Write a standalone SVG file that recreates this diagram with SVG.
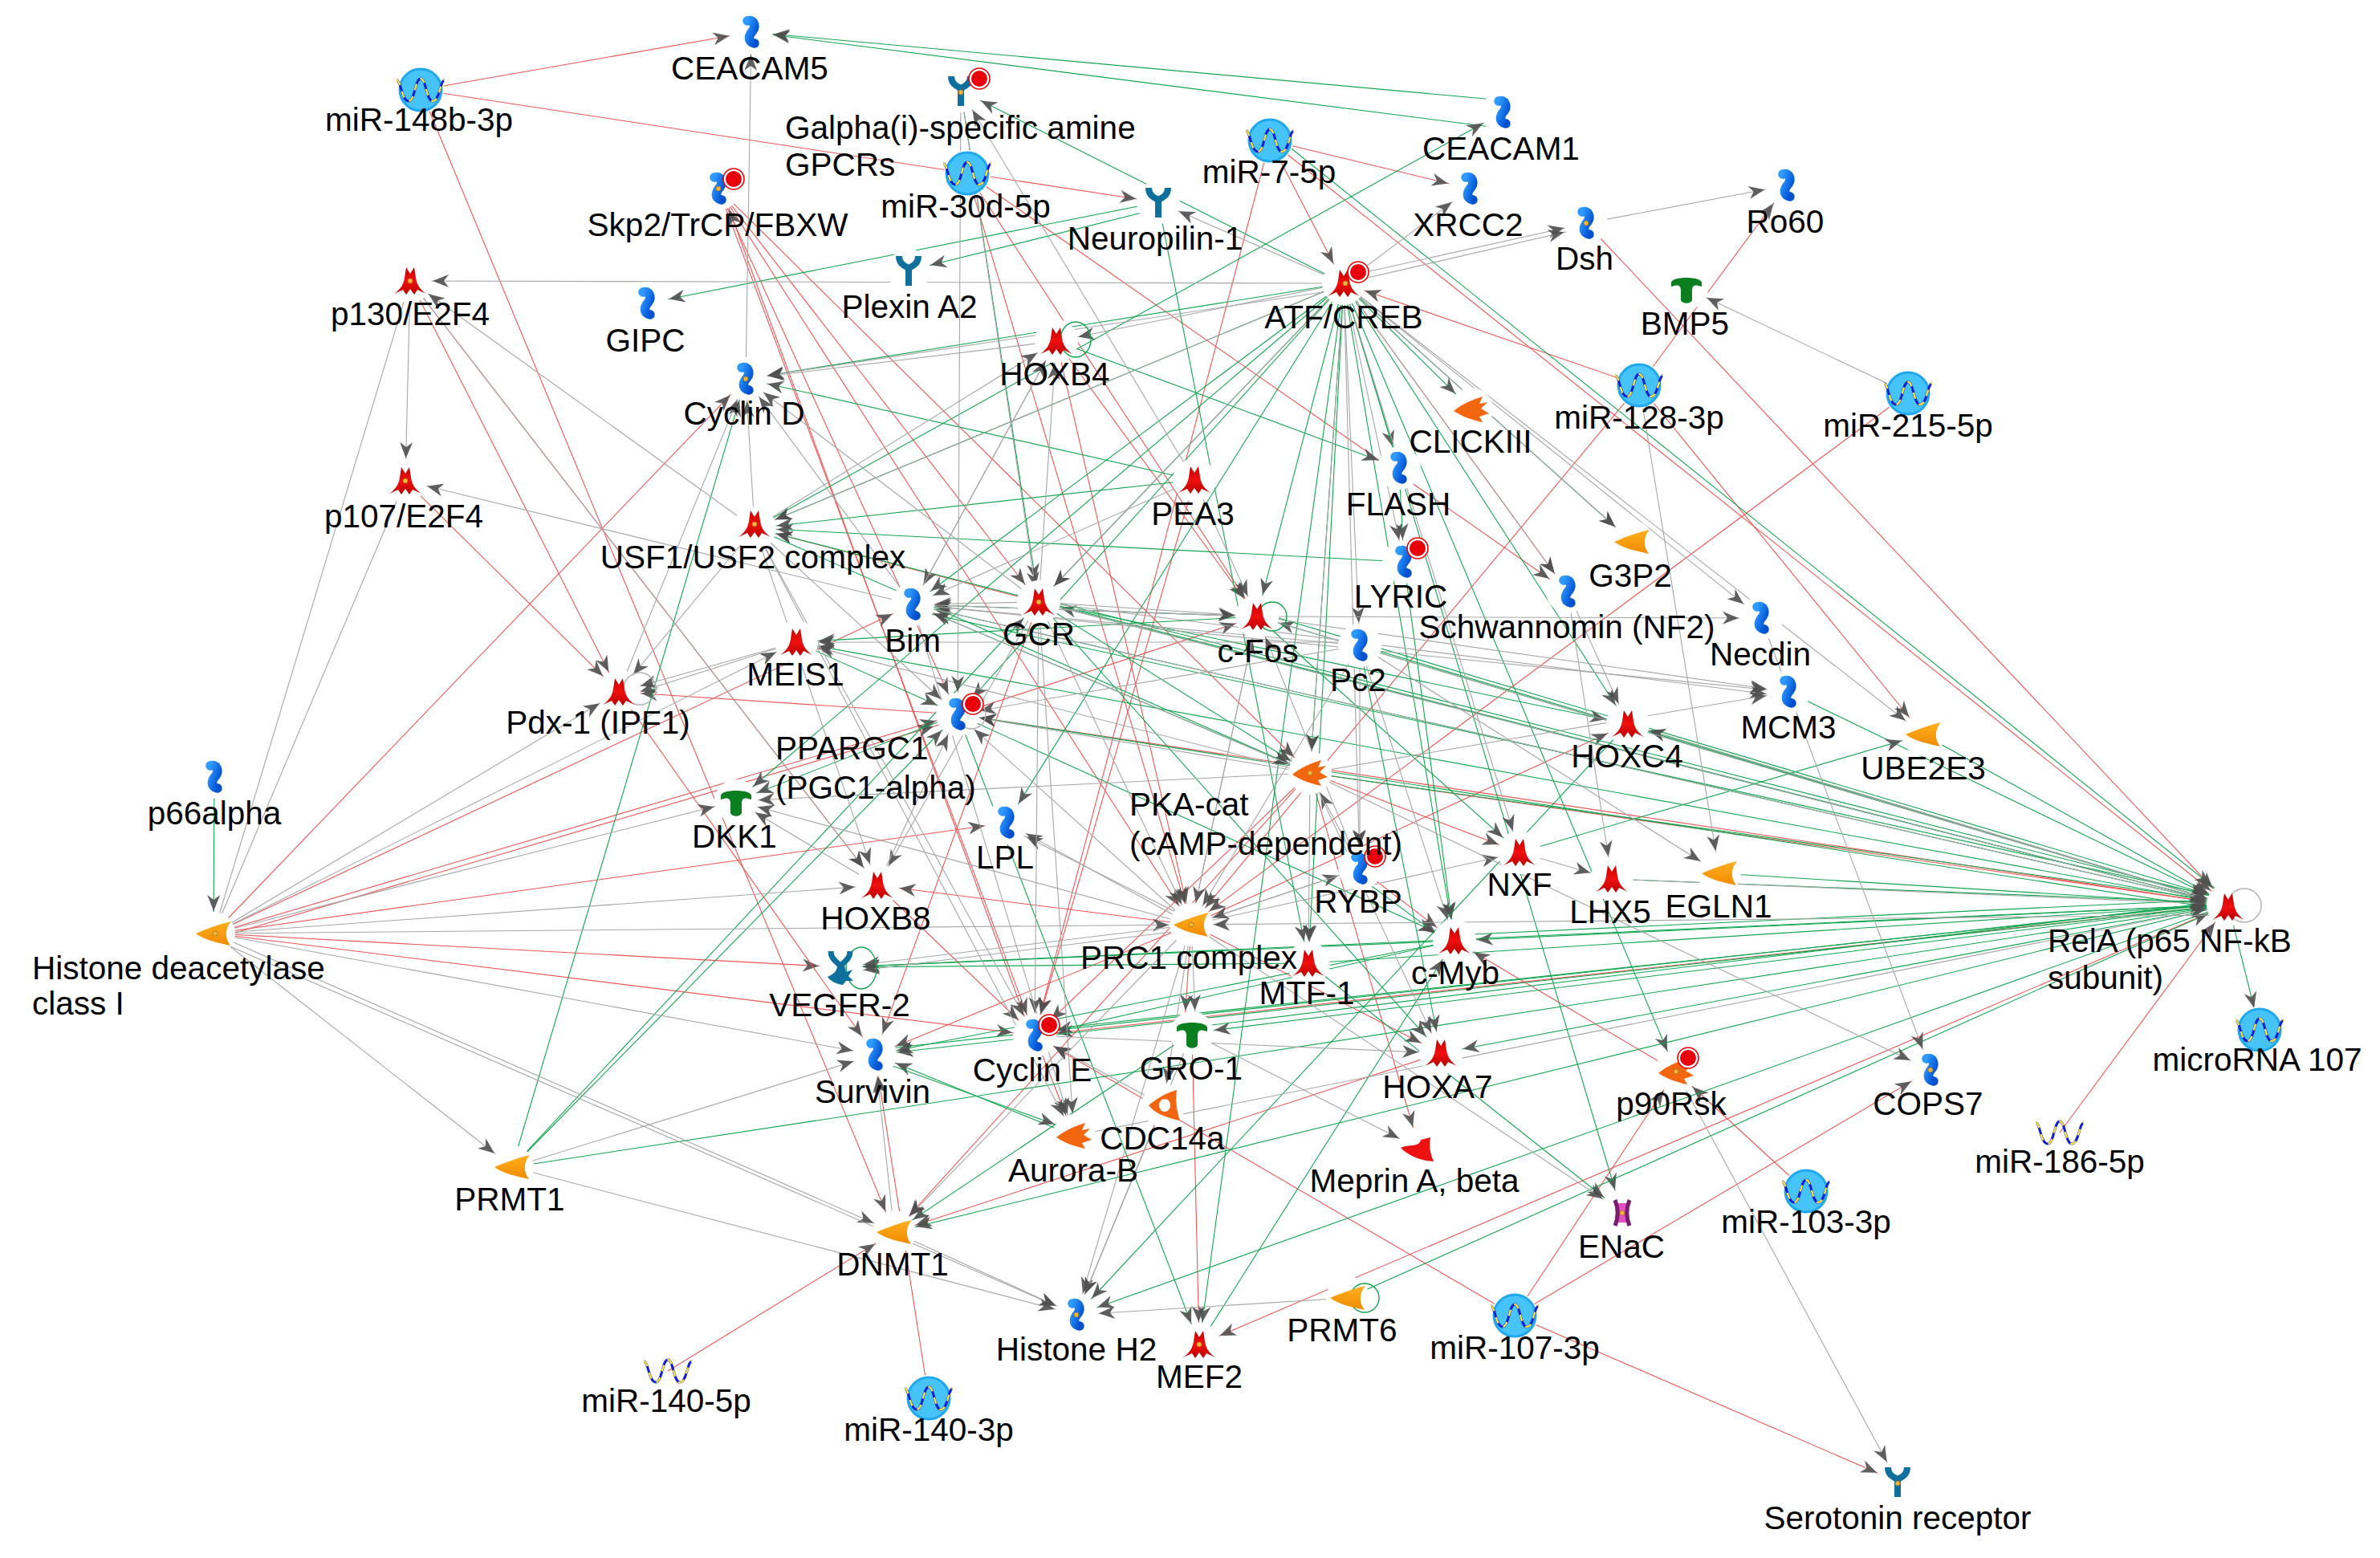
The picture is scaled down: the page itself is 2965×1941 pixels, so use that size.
<svg xmlns="http://www.w3.org/2000/svg" width="2965" height="1941" viewBox="0 0 2965 1941">
<style>
text{font-family:"Liberation Sans",Arial,sans-serif;font-size:40.5px;fill:#000;text-anchor:middle}
text.l{text-anchor:start}
.h{fill:#fff}
#edges line{stroke-width:1.1;fill:none;marker-end:url(#a)}
#edges .r line{stroke:#ee5555}
#edges .g line{stroke:#12a650}
#edges .y line{stroke:#a6a6a6}
#edges line.n{marker-end:none}
.loop{fill:none;stroke-width:1.4}
.lg{stroke:#12a650}
.ly{stroke:#b0b0b0}
.dot1{fill:#fff;stroke:#e00;stroke-width:1.6}
.dot2{fill:#e8000b}
.gear{fill:#f4b63a;stroke:#a8741a;stroke-width:.8}
</style>
<defs>
<marker id="a" markerUnits="userSpaceOnUse" markerWidth="90" markerHeight="24" refX="78" refY="12" orient="auto" overflow="visible"><path d="M30 4L50 12L30 20L36 12Z" fill="#4f4f4f" opacity=".9"/></marker>
<linearGradient id="bl" x1="0" y1="0" x2="1" y2="1"><stop offset="0" stop-color="#2f9bff"/><stop offset="1" stop-color="#0050d0"/></linearGradient>
<linearGradient id="rd" x1="0" y1="0" x2="0" y2="1"><stop offset="0" stop-color="#c40000"/><stop offset=".5" stop-color="#f01010"/><stop offset="1" stop-color="#b80000"/></linearGradient>
<linearGradient id="or" x1="0" y1="0" x2="0" y2="1"><stop offset="0" stop-color="#ffb020"/><stop offset="1" stop-color="#f08a00"/></linearGradient>
<g id="prot"><path d="M-5-14C3-17 6-8 2-2C-3 4-6 11 4 14" fill="none" stroke="url(#bl)" stroke-width="11.5" stroke-linecap="round"/></g>
<g id="tf"><path d="M-20 16C-10 9-8 2-7-4L-5-17L0-9L5-17L7-4C8 2 10 9 20 16L9 11L5 17L0 10L-5 17L-9 11Z" fill="url(#rd)"/></g>
<g id="rec"><path d="M-12-18C-12-7-3-5 0-3M12-18C12-7 3-5 0-3M0-3L0 19" fill="none" stroke="#0f6f9d" stroke-width="8"/></g>
<g id="enz"><path d="M22-15C8-12-8-6-22 0C-12 8 8 12 21 15C14 6 14-6 22-15Z" fill="url(#or)"/></g>
<g id="kin"><path d="M14-16C2-12-10-8-22 2C-10 10 4 14 14 16L10 9L22 5L12-1L20-9L10-7Z" fill="#f2660f"/></g>
<g id="gf"><path d="M-19-7C-18-15 18-15 19-7L19-2C10-5 7-4 7 4L7 15C5 20-5 20-7 15L-7 4C-7-4-10-5-19-2Z" fill="#0b7f1f"/></g>
<g id="wave"><path d="M-30-12C-24-12-24 14-15 14C-7 14-7-14 0-14C7-14 7 14 15 14C24 14 24-12 30-12" fill="none" stroke="#1020d0" stroke-width="3"/><path d="M-30-12C-24-12-24 14-15 14C-7 14-7-14 0-14C7-14 7 14 15 14C24 14 24-12 30-12" fill="none" stroke="#f8e040" stroke-width="2.4" stroke-dasharray="8 8"/></g>
<g id="mir"><circle r="26" fill="#46c4fa" stroke="#1fa8ee" stroke-width="3"/><use href="#wave"/></g>
<g id="pt"><circle r="13" class="dot1"/><circle r="10" class="dot2"/></g>
</defs>
<g id="edges">
<g class="r">
<line x1="524" y1="112" x2="936" y2="40"/><line x1="524" y1="112" x2="1443" y2="252"/><line x1="524" y1="112" x2="1114" y2="1535"/>
<line x1="895" y1="235" x2="1289" y2="1290"/><line x1="895" y1="235" x2="1193" y2="890"/><line x1="895" y1="235" x2="1484" y2="1152"/><line x1="895" y1="235" x2="1294" y2="750"/><line x1="895" y1="235" x2="1632" y2="963"/><line x1="1285" y1="1290" x2="899" y2="235"/>
<line x1="1205" y1="216" x2="1484" y2="1152"/><line x1="1205" y1="216" x2="1566" y2="768"/><line x1="1205" y1="216" x2="1953" y2="737"/>
<line x1="1582" y1="175" x2="1674" y2="353"/><line x1="1582" y1="175" x2="1831" y2="235"/><line x1="1582" y1="175" x2="1289" y2="1290"/><line x1="1582" y1="175" x2="2776" y2="1127"/>
<line x1="1976" y1="278" x2="2776" y2="1127"/><line x1="2042" y1="480" x2="2226" y2="231"/><line x1="2042" y1="480" x2="1674" y2="353"/><line x1="2042" y1="480" x2="2396" y2="915"/><line x1="2042" y1="480" x2="1484" y2="1152"/><line x1="2377" y1="490" x2="1484" y2="1152"/>
<line x1="2566" y1="1411" x2="2776" y2="1127"/><line x1="1887" y1="1639" x2="2364" y2="1846"/><line x1="1887" y1="1639" x2="2088" y2="1335"/><line x1="1887" y1="1639" x2="2405" y2="1333"/><line x1="2250" y1="1484" x2="2088" y2="1335"/><line x1="1887" y1="1639" x2="1289" y2="1290"/>
<line x1="832" y1="1708" x2="1114" y2="1535"/><line x1="1157" y1="1742" x2="1090" y2="1314"/>
<line x1="266" y1="1163" x2="929" y2="472"/><line x1="266" y1="1163" x2="1137" y2="753"/><line x1="266" y1="1163" x2="1193" y2="890"/><line x1="266" y1="1170" x2="1190" y2="897"/><line x1="266" y1="1163" x2="1254" y2="1025"/><line x1="266" y1="1163" x2="1048" y2="1205"/><line x1="266" y1="1163" x2="1289" y2="1290"/>
<line x1="511" y1="350" x2="771" y2="862"/><line x1="511" y1="350" x2="1093" y2="1103"/><line x1="505" y1="599" x2="771" y2="862"/><line x1="771" y1="862" x2="1090" y2="1314"/><line x1="1193" y1="890" x2="771" y2="862"/>
<line x1="1294" y1="750" x2="1090" y2="1314"/><line x1="1294" y1="750" x2="940" y2="658"/>
<line x1="1484" y1="1152" x2="1093" y2="1103"/><line x1="1484" y1="1152" x2="1090" y2="1314"/><line x1="1632" y1="963" x2="1114" y2="1535"/><line x1="1632" y1="963" x2="1289" y2="1290"/><line x1="1488" y1="598" x2="1289" y2="1290"/><line x1="1093" y1="1103" x2="1289" y2="1290"/><line x1="1289" y1="1290" x2="1338" y2="1415"/>
<line x1="1485" y1="1287" x2="1494" y2="1675"/><line x1="1484" y1="1152" x2="1475" y2="1287"/>
<line x1="2776" y1="1127" x2="1289" y2="1290"/><line x1="2776" y1="1127" x2="1193" y2="890"/><line x1="2776" y1="1127" x2="1494" y2="1675"/><line x1="1795" y1="1312" x2="1114" y2="1535"/>
<line x1="1694" y1="1082" x2="1812" y2="1172"/><line x1="2088" y1="1335" x2="1812" y2="1172"/><line x1="1484" y1="1152" x2="2028" y2="902"/><line x1="1632" y1="963" x2="2776" y2="1127"/><line x1="1632" y1="963" x2="1768" y2="1431"/><line x1="1632" y1="963" x2="1893" y2="1062"/>
<line x1="1193" y1="890" x2="1566" y2="768"/><line x1="1484" y1="1152" x2="1795" y2="1312"/><line x1="1316" y1="425" x2="1566" y2="768"/><line x1="1316" y1="425" x2="1484" y2="1152"/><line x1="1674" y1="353" x2="1953" y2="737"/>
</g>
<g class="g">
<line x1="267" y1="968" x2="266" y2="1163"/><line x1="1872" y1="125" x2="936" y2="40"/><line x1="1872" y1="160" x2="936" y2="40"/>
<line x1="1443" y1="252" x2="806" y2="378"/><line x1="1443" y1="260" x2="1132" y2="337"/><line x1="1443" y1="252" x2="1630" y2="1200"/>
<line x1="1674" y1="353" x2="1197" y2="113"/><line x1="1674" y1="353" x2="929" y2="472"/><line x1="1674" y1="353" x2="940" y2="658"/><line x1="1674" y1="353" x2="1137" y2="753"/><line x1="1674" y1="353" x2="1294" y2="750"/><line x1="1674" y1="353" x2="1193" y2="890"/><line x1="1674" y1="353" x2="917" y2="998"/><line x1="1674" y1="353" x2="1254" y2="1025"/><line x1="1674" y1="353" x2="1566" y2="768"/><line x1="1674" y1="353" x2="1632" y2="963"/><line x1="1674" y1="353" x2="1630" y2="1200"/><line x1="1674" y1="353" x2="1812" y2="1172"/><line x1="1674" y1="353" x2="2028" y2="902"/><line x1="1674" y1="353" x2="1743" y2="583"/><line x1="1674" y1="353" x2="1833" y2="510"/><line x1="1674" y1="353" x2="2020" y2="1509"/><line x1="1674" y1="353" x2="2088" y2="1335"/><line x1="1674" y1="353" x2="2033" y2="675"/><line x1="1674" y1="353" x2="1494" y2="1675"/>
<line x1="940" y1="658" x2="1872" y2="140"/><line x1="1316" y1="425" x2="1743" y2="583"/><line x1="1488" y1="598" x2="929" y2="472"/><line x1="1488" y1="598" x2="940" y2="658"/>
<line x1="638" y1="1454" x2="929" y2="472"/><line x1="638" y1="1454" x2="1193" y2="890"/><line x1="638" y1="1454" x2="1294" y2="750"/><line x1="638" y1="1454" x2="2776" y2="1127"/>
<line x1="1197" y1="113" x2="1294" y2="750"/><line x1="1590" y1="170" x2="2776" y2="1120"/>
<line x1="2776" y1="1127" x2="940" y2="658"/><line x1="2776" y1="1127" x2="1137" y2="753"/><line x1="2776" y1="1120" x2="1137" y2="760"/><line x1="2776" y1="1127" x2="1294" y2="750"/><line x1="2776" y1="1127" x2="992" y2="800"/><line x1="2776" y1="1127" x2="1566" y2="768"/><line x1="1632" y1="963" x2="2776" y2="1124"/><line x1="2776" y1="1134" x2="1193" y2="890"/><line x1="2776" y1="1127" x2="2028" y2="902"/><line x1="2776" y1="1127" x2="1812" y2="1172"/><line x1="2776" y1="1127" x2="1048" y2="1205"/><line x1="2776" y1="1127" x2="1485" y2="1287"/><line x1="2776" y1="1127" x2="1090" y2="1314"/><line x1="2776" y1="1127" x2="1114" y2="1535"/><line x1="2776" y1="1127" x2="1341" y2="1638"/><line x1="1679" y1="1617" x2="2776" y2="1127"/><line x1="2776" y1="1127" x2="2815" y2="1283"/><line x1="2776" y1="1127" x2="1795" y2="1312"/>
<line x1="2142" y1="1088" x2="2776" y2="1127"/><line x1="1630" y1="1200" x2="2776" y2="1127"/><line x1="2396" y1="915" x2="2776" y2="1127"/><line x1="2228" y1="862" x2="2776" y2="1127"/><line x1="1694" y1="804" x2="2776" y2="1127"/>
<line x1="1812" y1="1165" x2="2776" y2="1120"/><line x1="1485" y1="1280" x2="2776" y2="1122"/><line x1="1289" y1="1284" x2="2776" y2="1125"/><line x1="1090" y1="1308" x2="2776" y2="1124"/><line x1="1294" y1="745" x2="2776" y2="1122"/><line x1="1566" y1="762" x2="2776" y2="1122"/><line x1="2008" y1="1095" x2="2776" y2="1125"/>
<line x1="1812" y1="1172" x2="1048" y2="1205"/><line x1="1812" y1="1172" x2="1090" y2="1314"/><line x1="1812" y1="1172" x2="1289" y2="1290"/><line x1="1630" y1="1200" x2="1048" y2="1205"/>
<line x1="1749" y1="700" x2="940" y2="658"/><line x1="1566" y1="768" x2="1137" y2="753"/><line x1="1566" y1="768" x2="992" y2="800"/><line x1="992" y1="800" x2="1193" y2="890"/><line x1="1193" y1="890" x2="917" y2="998"/><line x1="1193" y1="890" x2="1494" y2="1675"/><line x1="1193" y1="890" x2="1812" y2="1172"/>
<line x1="1338" y1="1415" x2="1090" y2="1314"/><line x1="1090" y1="1320" x2="1340" y2="1410"/><line x1="1485" y1="1287" x2="1114" y2="1535"/><line x1="1893" y1="1062" x2="2396" y2="915"/><line x1="1690" y1="1090" x2="1812" y2="1180"/>
<line x1="1294" y1="750" x2="2028" y2="902"/><line x1="1294" y1="750" x2="1632" y2="963"/><line x1="1137" y1="753" x2="1632" y2="963"/><line x1="940" y1="658" x2="1632" y2="963"/>
<line x1="1749" y1="700" x2="1812" y2="1172"/><line x1="1743" y1="583" x2="1749" y2="700"/><line x1="1494" y1="1675" x2="1812" y2="1172"/><line x1="1294" y1="750" x2="1795" y2="1312"/><line x1="1566" y1="768" x2="1893" y2="1062"/><line x1="1694" y1="804" x2="1795" y2="1312"/><line x1="2028" y1="902" x2="1341" y2="1638"/><line x1="1630" y1="1200" x2="2020" y2="1509"/>
</g>
<g class="y">
<line x1="511" y1="350" x2="505" y2="599"/><line class="n" x1="511" y1="350" x2="266" y2="1163"/><line class="n" x1="505" y1="599" x2="266" y2="1163"/><line x1="940" y1="658" x2="511" y2="350"/><line x1="1137" y1="753" x2="505" y2="599"/><line x1="511" y1="350" x2="1093" y2="1103"/>
<line x1="929" y1="472" x2="936" y2="40"/><line x1="1674" y1="353" x2="511" y2="350"/><line x1="1674" y1="345" x2="1976" y2="278"/><line x1="1674" y1="353" x2="1976" y2="283"/><line x1="1674" y1="353" x2="1831" y2="235"/><line x1="1674" y1="353" x2="1443" y2="252"/><line x1="1674" y1="353" x2="1316" y2="425"/><line x1="1674" y1="360" x2="929" y2="472"/><line x1="1674" y1="353" x2="2033" y2="675"/><line x1="1674" y1="353" x2="1953" y2="737"/><line x1="1674" y1="353" x2="2194" y2="770"/><line x1="1674" y1="353" x2="1749" y2="700"/><line x1="1674" y1="353" x2="1694" y2="804"/><line x1="1674" y1="353" x2="1694" y2="1082"/><line x1="1674" y1="353" x2="1632" y2="963"/><line x1="1674" y1="353" x2="2396" y2="915"/><line x1="1674" y1="353" x2="1893" y2="1062"/><line x1="1674" y1="353" x2="1294" y2="750"/><line x1="1674" y1="353" x2="940" y2="658"/>
<line x1="2377" y1="490" x2="2101" y2="359"/><line x1="1976" y1="278" x2="2226" y2="231"/>
<line x1="1294" y1="750" x2="929" y2="472"/><line x1="940" y1="658" x2="929" y2="472"/><line x1="771" y1="862" x2="929" y2="472"/><line x1="1137" y1="753" x2="929" y2="472"/><line x1="1316" y1="425" x2="929" y2="472"/>
<line x1="1294" y1="750" x2="1137" y2="753"/><line x1="1566" y1="768" x2="1137" y2="753"/><line x1="1694" y1="804" x2="1137" y2="753"/><line x1="1632" y1="963" x2="1137" y2="753"/><line x1="1488" y1="598" x2="1137" y2="753"/><line x1="1316" y1="425" x2="1137" y2="753"/>
<line x1="1694" y1="800" x2="992" y2="800"/><line x1="1632" y1="963" x2="992" y2="800"/><line x1="266" y1="1163" x2="992" y2="800"/><line x1="266" y1="1163" x2="771" y2="862"/><line x1="992" y1="800" x2="771" y2="862"/><line x1="992" y1="800" x2="771" y2="870"/><line x1="940" y1="658" x2="771" y2="862"/><line x1="940" y1="658" x2="1193" y2="890"/>
<line x1="266" y1="1163" x2="917" y2="998"/><line x1="1632" y1="963" x2="917" y2="998"/><line x1="1093" y1="1103" x2="917" y2="998"/><line x1="1484" y1="1152" x2="917" y2="998"/>
<line x1="266" y1="1163" x2="1093" y2="1103"/><line x1="940" y1="658" x2="1093" y2="1103"/><line x1="1294" y1="750" x2="1093" y2="1103"/>
<line x1="1484" y1="1152" x2="1254" y2="1025"/><line x1="1484" y1="1146" x2="1254" y2="1030"/><line x1="266" y1="1163" x2="1484" y2="1152"/><line x1="266" y1="1163" x2="1090" y2="1314"/><line x1="266" y1="1163" x2="1114" y2="1535"/><line x1="266" y1="1170" x2="1341" y2="1638"/><line x1="266" y1="1163" x2="638" y2="1454"/>
<line x1="638" y1="1454" x2="1090" y2="1314"/><line x1="638" y1="1454" x2="1341" y2="1638"/><line x1="1114" y1="1535" x2="1090" y2="1314"/><line x1="1114" y1="1535" x2="1341" y2="1638"/><line x1="1679" y1="1617" x2="1341" y2="1638"/><line x1="1484" y1="1152" x2="1341" y2="1638"/><line x1="1485" y1="1287" x2="1341" y2="1638"/><line x1="1449" y1="1377" x2="1341" y2="1638"/>
<line x1="1484" y1="1152" x2="1114" y2="1535"/><line x1="1484" y1="1152" x2="1048" y2="1205"/><line x1="1484" y1="1158" x2="1048" y2="1212"/><line x1="1484" y1="1152" x2="1490" y2="1287"/><line x1="1484" y1="1152" x2="1449" y2="1377"/><line x1="1484" y1="1152" x2="1694" y2="1082"/><line x1="1484" y1="1152" x2="1893" y2="1062"/>
<line x1="1694" y1="1082" x2="1632" y2="963"/><line x1="1694" y1="804" x2="1694" y2="1082"/><line x1="1632" y1="963" x2="1630" y2="1200"/><line x1="1694" y1="804" x2="1812" y2="1172"/><line x1="940" y1="658" x2="1289" y2="1290"/><line x1="1294" y1="750" x2="1289" y2="1290"/><line x1="1449" y1="1377" x2="1289" y2="1290"/><line x1="1289" y1="1290" x2="1795" y2="1312"/><line x1="1632" y1="963" x2="1795" y2="1312"/>
<line x1="1294" y1="750" x2="1338" y2="1415"/><line x1="1137" y1="753" x2="1338" y2="1415"/><line x1="940" y1="658" x2="1338" y2="1415"/><line x1="1338" y1="1415" x2="2776" y2="1127"/><line x1="2776" y1="1140" x2="1484" y2="1152"/><line x1="2776" y1="1127" x2="2028" y2="902"/>
<line x1="1953" y1="737" x2="2028" y2="902"/><line x1="1953" y1="737" x2="2008" y2="1095"/><line x1="1893" y1="1062" x2="2008" y2="1095"/><line x1="2042" y1="480" x2="2142" y2="1088"/><line x1="1694" y1="804" x2="2142" y2="1088"/><line x1="2088" y1="1335" x2="2364" y2="1846"/><line x1="1484" y1="1152" x2="2020" y2="1509"/><line x1="1632" y1="963" x2="2405" y2="1333"/><line x1="2194" y1="770" x2="2405" y2="1333"/>
<line x1="1632" y1="963" x2="2228" y2="862"/><line x1="1137" y1="753" x2="2228" y2="862"/><line x1="1294" y1="750" x2="2228" y2="868"/><line x1="1566" y1="768" x2="2228" y2="862"/><line x1="1566" y1="768" x2="2194" y2="770"/><line x1="1294" y1="750" x2="2776" y2="1127"/><line x1="1137" y1="753" x2="2776" y2="1127"/><line x1="1566" y1="768" x2="2776" y2="1127"/><line x1="2008" y1="1095" x2="2776" y2="1127"/>
<line x1="1488" y1="598" x2="1566" y2="768"/><line x1="1294" y1="750" x2="1566" y2="768"/><line x1="1137" y1="753" x2="1566" y2="768"/><line x1="1694" y1="1082" x2="1566" y2="768"/><line x1="1484" y1="1152" x2="1566" y2="768"/>
<line x1="1488" y1="598" x2="1197" y2="113"/><line x1="1197" y1="113" x2="1294" y2="760"/><line x1="1197" y1="113" x2="1193" y2="890"/><line x1="940" y1="658" x2="1316" y2="425"/><line x1="1137" y1="753" x2="1316" y2="425"/><line x1="1294" y1="750" x2="1316" y2="425"/>
<line x1="1484" y1="1152" x2="1193" y2="890"/><line x1="1632" y1="963" x2="1193" y2="890"/><line x1="1093" y1="1103" x2="1193" y2="890"/><line x1="1694" y1="804" x2="1193" y2="890"/>
<line x1="1294" y1="750" x2="1484" y2="1152"/><line x1="1566" y1="768" x2="1484" y2="1152"/><line x1="1694" y1="1082" x2="1484" y2="1152"/><line x1="1694" y1="804" x2="1484" y2="1152"/><line x1="1485" y1="1287" x2="1768" y2="1431"/>
</g>
</g>
<g id="nodes">
<g id="n-ceacam5"><circle class="h" cx="936" cy="40" r="27"/><use href="#prot" x="936" y="40"/><text x="934" y="99">CEACAM5</text></g>
<g id="n-mir148"><circle class="h" cx="524" cy="112" r="29"/><use href="#mir" x="524" y="112"/><text x="522" y="163">miR-148b-3p</text></g>
<g id="n-galpha"><circle class="h" cx="1197" cy="113" r="27"/><use href="#rec" x="1197" y="113"/><circle class="gear" cx="1197" cy="115" r="3"/><use href="#pt" x="1220" y="98"/><text class="l" x="978" y="173">Galpha(i)-specific amine</text><text class="l" x="978" y="219">GPCRs</text></g>
<g id="n-skp2"><circle class="h" cx="895" cy="235" r="27"/><use href="#prot" x="895" y="235"/><circle class="gear" cx="895" cy="235" r="3"/><use href="#pt" x="914" y="223"/><text x="894" y="294">Skp2/TrCP/FBXW</text></g>
<g id="n-mir30"><circle class="h" cx="1205" cy="216" r="29"/><use href="#mir" x="1205" y="216"/><text x="1203" y="271">miR-30d-5p</text></g>
<g id="n-mir7"><circle class="h" cx="1582" cy="175" r="29"/><use href="#mir" x="1582" y="175"/><text x="1581" y="228">miR-7-5p</text></g>
<g id="n-ceacam1"><circle class="h" cx="1872" cy="140" r="27"/><use href="#prot" x="1872" y="140"/><text x="1870" y="199">CEACAM1</text></g>
<g id="n-xrcc2"><circle class="h" cx="1831" cy="235" r="27"/><use href="#prot" x="1831" y="235"/><text x="1829" y="294">XRCC2</text></g>
<g id="n-dsh"><circle class="h" cx="1976" cy="278" r="27"/><use href="#prot" x="1976" y="278"/><circle class="gear" cx="1976" cy="278" r="3"/><text x="1974" y="336">Dsh</text></g>
<g id="n-ro60"><circle class="h" cx="2226" cy="231" r="27"/><use href="#prot" x="2226" y="231"/><text x="2224" y="290">Ro60</text></g>
<g id="n-np1"><circle class="h" cx="1443" cy="252" r="27"/><use href="#rec" x="1443" y="252"/><text x="1439" y="311">Neuropilin-1</text></g>
<g id="n-plexin"><circle class="h" cx="1132" cy="337" r="27"/><use href="#rec" x="1132" y="337"/><text x="1133" y="396">Plexin A2</text></g>
<g id="n-p130"><circle class="h" cx="511" cy="350" r="27"/><use href="#tf" x="511" y="350"/><circle class="gear" cx="511" cy="350" r="3"/><text x="511" y="405">p130/E2F4</text></g>
<g id="n-gipc"><circle class="h" cx="806" cy="378" r="27"/><use href="#prot" x="806" y="378"/><text x="804" y="438">GIPC</text></g>
<g id="n-atf"><circle class="h" cx="1674" cy="353" r="27"/><use href="#tf" x="1674" y="353"/><circle class="gear" cx="1676" cy="353" r="3"/><use href="#pt" x="1692" y="339"/><text x="1674" y="409">ATF/CREB</text></g>
<g id="n-bmp5"><circle class="h" cx="2101" cy="359" r="27"/><use href="#gf" x="2101" y="359"/><text x="2099" y="417">BMP5</text></g>
<g id="n-hoxb4"><circle class="h" cx="1316" cy="425" r="27"/><ellipse class="loop lg" cx="1340" cy="423" rx="19" ry="22"/><use href="#tf" x="1316" y="425"/><text x="1314" y="480">HOXB4</text></g>
<g id="n-cycd"><circle class="h" cx="929" cy="472" r="27"/><use href="#prot" x="929" y="472"/><circle class="gear" cx="929" cy="472" r="3"/><text x="927" y="529">Cyclin D</text></g>
<g id="n-mir128"><circle class="h" cx="2042" cy="480" r="29"/><use href="#mir" x="2042" y="480"/><text x="2042" y="534">miR-128-3p</text></g>
<g id="n-mir215"><circle class="h" cx="2377" cy="490" r="29"/><use href="#mir" x="2377" y="490"/><text x="2377" y="544">miR-215-5p</text></g>
<g id="n-click"><circle class="h" cx="1833" cy="510" r="27"/><use href="#kin" x="1833" y="510"/><text x="1832" y="564">CLICKIII</text></g>
<g id="n-flash"><circle class="h" cx="1743" cy="583" r="27"/><use href="#prot" x="1743" y="583"/><text x="1742" y="642">FLASH</text></g>
<g id="n-pea3"><circle class="h" cx="1488" cy="598" r="27"/><use href="#tf" x="1488" y="598"/><text x="1486" y="654">PEA3</text></g>
<g id="n-p107"><circle class="h" cx="505" cy="599" r="27"/><use href="#tf" x="505" y="599"/><circle class="gear" cx="505" cy="599" r="3"/><text x="503" y="657">p107/E2F4</text></g>
<g id="n-usf"><circle class="h" cx="940" cy="658" r="27"/><use href="#tf" x="940" y="653"/><circle class="gear" cx="940" cy="653" r="3"/><text x="938" y="708">USF1/USF2 complex</text></g>
<g id="n-g3p2"><circle class="h" cx="2033" cy="675" r="27"/><use href="#enz" x="2033" y="675"/><text x="2031" y="731">G3P2</text></g>
<g id="n-lyric"><circle class="h" cx="1749" cy="700" r="27"/><use href="#prot" x="1749" y="700"/><use href="#pt" x="1766" y="683"/><text x="1745" y="757">LYRIC</text></g>
<g id="n-nf2"><circle class="h" cx="1953" cy="737" r="27"/><use href="#prot" x="1953" y="737"/><text x="1952" y="795">Schwannomin (NF2)</text></g>
<g id="n-necdin"><circle class="h" cx="2194" cy="770" r="27"/><use href="#prot" x="2194" y="770"/><text x="2193" y="829">Necdin</text></g>
<g id="n-bim"><circle class="h" cx="1137" cy="753" r="27"/><use href="#prot" x="1137" y="753"/><text x="1137" y="812">Bim</text></g>
<g id="n-gcr"><circle class="h" cx="1294" cy="750" r="27"/><use href="#tf" x="1294" y="750"/><circle class="gear" cx="1294" cy="750" r="3"/><text x="1294" y="804">GCR</text></g>
<g id="n-cfos"><circle class="h" cx="1566" cy="768" r="27"/><circle class="loop lg" cx="1585" cy="768" r="18"/><use href="#tf" x="1566" y="768"/><text x="1567" y="825">c-Fos</text></g>
<g id="n-meis1"><circle class="h" cx="992" cy="800" r="27"/><use href="#tf" x="992" y="800"/><text x="991" y="854">MEIS1</text></g>
<g id="n-pc2"><circle class="h" cx="1694" cy="804" r="27"/><use href="#prot" x="1694" y="804"/><text x="1692" y="861">Pc2</text></g>
<g id="n-pdx"><circle class="h" cx="771" cy="862" r="27"/><circle class="loop ly" cx="797" cy="858" r="20"/><use href="#tf" x="771" y="862"/><text x="745" y="914">Pdx-1 (IPF1)</text></g>
<g id="n-mcm3"><circle class="h" cx="2228" cy="862" r="27"/><use href="#prot" x="2228" y="862"/><text x="2228" y="920">MCM3</text></g>
<g id="n-hoxc4"><circle class="h" cx="2028" cy="902" r="27"/><use href="#tf" x="2028" y="902"/><text x="2027" y="956">HOXC4</text></g>
<g id="n-pgc"><circle class="h" cx="1193" cy="890" r="27"/><circle class="loop ly" cx="1210" cy="890" r="18"/><use href="#prot" x="1193" y="890"/><use href="#pt" x="1212" y="877"/><text class="l" x="966" y="946">PPARGC1</text><text class="l" x="966" y="995">(PGC1-alpha)</text></g>
<g id="n-rybp"><circle class="h" cx="1694" cy="1082" r="27"/><use href="#prot" x="1694" y="1082"/><use href="#pt" x="1713" y="1067"/><text x="1692" y="1137">RYBP</text></g>
<g id="n-pka"><circle class="h" cx="1632" cy="963" r="27"/><use href="#kin" x="1632" y="963"/><circle class="gear" cx="1632" cy="963" r="3"/><text class="l" x="1407" y="1016">PKA-cat</text><text class="l" x="1407" y="1065">(cAMP-dependent)</text></g>
<g id="n-p66"><circle class="h" cx="267" cy="968" r="27"/><use href="#prot" x="267" y="968"/><text x="267" y="1027">p66alpha</text></g>
<g id="n-ube"><circle class="h" cx="2396" cy="915" r="27"/><use href="#enz" x="2396" y="915"/><text x="2396" y="971">UBE2E3</text></g>
<g id="n-dkk1"><circle class="h" cx="917" cy="998" r="27"/><use href="#gf" x="917" y="998"/><text x="915" y="1056">DKK1</text></g>
<g id="n-lpl"><circle class="h" cx="1254" cy="1025" r="27"/><use href="#prot" x="1254" y="1025"/><text x="1252" y="1082">LPL</text></g>
<g id="n-hoxb8"><circle class="h" cx="1093" cy="1103" r="27"/><use href="#tf" x="1093" y="1103"/><text x="1091" y="1158">HOXB8</text></g>
<g id="n-nxf"><circle class="h" cx="1893" cy="1062" r="27"/><use href="#tf" x="1893" y="1062"/><text x="1893" y="1116">NXF</text></g>
<g id="n-lhx5"><circle class="h" cx="2008" cy="1095" r="27"/><use href="#tf" x="2008" y="1095"/><text x="2006" y="1150">LHX5</text></g>
<g id="n-egln1"><circle class="h" cx="2142" cy="1088" r="27"/><use href="#enz" x="2142" y="1088"/><text x="2141" y="1143">EGLN1</text></g>
<g id="n-mtf1"><circle class="h" cx="1630" cy="1200" r="27"/><use href="#tf" x="1630" y="1200"/><text x="1628" y="1251">MTF-1</text></g>
<g id="n-prc1"><circle class="h" cx="1484" cy="1152" r="27"/><use href="#enz" x="1484" y="1152"/><circle class="gear" cx="1484" cy="1152" r="3"/><text x="1481" y="1207">PRC1 complex</text></g>
<g id="n-myb"><circle class="h" cx="1812" cy="1172" r="27"/><use href="#tf" x="1812" y="1172"/><text x="1813" y="1226">c-Myb</text></g>
<g id="n-rela"><circle class="h" cx="2776" cy="1127" r="27"/><circle class="loop ly" cx="2796" cy="1128" r="21"/><use href="#tf" x="2776" y="1130"/><text class="l" x="2551" y="1186">RelA (p65 NF-kB</text><text class="l" x="2551" y="1232">subunit)</text></g>
<g id="n-mirna107"><circle class="h" cx="2815" cy="1283" r="29"/><use href="#mir" x="2815" y="1283"/><text x="2812" y="1334">microRNA 107</text></g>
<g id="n-mir186"><use href="#wave" x="2566" y="1411"/><text x="2566" y="1461">miR-186-5p</text></g>
<g id="n-cops7"><circle class="h" cx="2405" cy="1333" r="27"/><use href="#prot" x="2405" y="1333"/><circle class="gear" cx="2405" cy="1333" r="3"/><text x="2402" y="1389">COPS7</text></g>
<g id="n-hdac"><circle class="h" cx="266" cy="1163" r="27"/><use href="#enz" x="266" y="1163"/><circle class="gear" cx="268" cy="1163" r="3"/><text class="l" x="40" y="1220">Histone deacetylase</text><text class="l" x="40" y="1264">class I</text></g>
<g id="n-vegfr"><circle class="h" cx="1048" cy="1205" r="27"/><ellipse class="loop lg" cx="1073" cy="1206" rx="19" ry="26"/><path d="M1035 1185C1035 1197 1046 1199 1047 1205M1059 1185C1059 1197 1048 1199 1047 1205" fill="none" stroke="#0f6f9d" stroke-width="7"/><path d="M1043 1203L1052 1203L1054 1211L1062 1208L1057 1216L1063 1222L1054 1222L1050 1227C1042 1226 1034 1222 1031 1217C1038 1214 1043 1210 1043 1203Z" fill="#0f6f9d"/><text x="1046" y="1266">VEGFR-2</text></g>
<g id="n-gro1"><circle class="h" cx="1485" cy="1287" r="27"/><use href="#gf" x="1485" y="1287"/><text x="1484" y="1345">GRO-1</text></g>
<g id="n-cyce"><circle class="h" cx="1289" cy="1290" r="27"/><use href="#prot" x="1289" y="1290"/><use href="#pt" x="1307" y="1277"/><text x="1286" y="1347">Cyclin E</text></g>
<g id="n-survivin"><circle class="h" cx="1090" cy="1314" r="27"/><use href="#prot" x="1090" y="1314"/><text x="1087" y="1374">Survivin</text></g>
<g id="n-hoxa7"><circle class="h" cx="1795" cy="1312" r="27"/><use href="#tf" x="1795" y="1312"/><text x="1791" y="1368">HOXA7</text></g>
<g id="n-p90"><circle class="h" cx="2088" cy="1335" r="27"/><use href="#kin" x="2088" y="1335"/><circle class="gear" cx="2088" cy="1335" r="3"/><use href="#pt" x="2103" y="1318"/><text x="2082" y="1389">p90Rsk</text></g>
<g id="n-aurora"><circle class="h" cx="1338" cy="1415" r="27"/><use href="#kin" x="1338" y="1415"/><text x="1337" y="1472">Aurora-B</text></g>
<g id="n-cdc14a"><circle class="h" cx="1449" cy="1377" r="27"/><path d="M1466 1358C1450 1362 1440 1370 1431 1377C1438 1386 1450 1392 1470 1396C1466 1385 1464 1370 1466 1358Z" fill="#f2660f"/><ellipse cx="1451" cy="1377" rx="7" ry="8" fill="#fff"/><text x="1448" y="1432">CDC14a</text></g>
<g id="n-meprin"><circle class="h" cx="1768" cy="1431" r="27"/><path d="M1745 1430C1755 1425 1768 1430 1770 1420L1782 1417C1780 1428 1782 1438 1786 1447C1770 1446 1755 1440 1745 1430Z" fill="#ee1111"/><text x="1762" y="1485">Meprin A, beta</text></g>
<g id="n-prmt1"><circle class="h" cx="638" cy="1454" r="27"/><use href="#enz" x="638" y="1454"/><text x="635" y="1508">PRMT1</text></g>
<g id="n-mir103"><circle class="h" cx="2250" cy="1484" r="29"/><use href="#mir" x="2250" y="1484"/><text x="2250" y="1536">miR-103-3p</text></g>
<g id="n-dnmt1"><circle class="h" cx="1114" cy="1535" r="27"/><use href="#enz" x="1114" y="1535"/><text x="1112" y="1589">DNMT1</text></g>
<g id="n-enac"><circle class="h" cx="2020" cy="1509" r="27"/><rect x="2014" y="1499" width="14" height="24" fill="#e050c0"/><path d="M2012 1495C2016 1505 2016 1517 2012 1527M2030 1495C2026 1505 2026 1517 2030 1527" fill="none" stroke="#7a1a70" stroke-width="5"/><circle class="gear" cx="2021" cy="1511" r="3"/><text x="2020" y="1567">ENaC</text></g>
<g id="n-h2"><circle class="h" cx="1341" cy="1638" r="27"/><use href="#prot" x="1341" y="1638"/><circle class="gear" cx="1341" cy="1638" r="3"/><text x="1341" y="1695">Histone H2</text></g>
<g id="n-prmt6"><circle class="h" cx="1679" cy="1617" r="27"/><circle class="loop lg" cx="1700" cy="1617" r="18"/><use href="#enz" x="1679" y="1617"/><text x="1672" y="1671">PRMT6</text></g>
<g id="n-mir107"><circle class="h" cx="1887" cy="1639" r="29"/><use href="#mir" x="1887" y="1639"/><text x="1887" y="1693">miR-107-3p</text></g>
<g id="n-mef2"><circle class="h" cx="1494" cy="1675" r="27"/><use href="#tf" x="1494" y="1675"/><circle class="gear" cx="1494" cy="1675" r="3"/><text x="1494" y="1729">MEF2</text></g>
<g id="n-mir140a"><use href="#wave" x="832" y="1708"/><text x="830" y="1759">miR-140-5p</text></g>
<g id="n-mir140b"><circle class="h" cx="1157" cy="1742" r="29"/><use href="#mir" x="1157" y="1742"/><text x="1157" y="1795">miR-140-3p</text></g>
<g id="n-serotonin"><circle class="h" cx="2364" cy="1846" r="27"/><use href="#rec" x="2364" y="1846"/><circle class="gear" cx="2364" cy="1848" r="3"/><text x="2364" y="1905">Serotonin receptor</text></g>
</g>
</svg>
